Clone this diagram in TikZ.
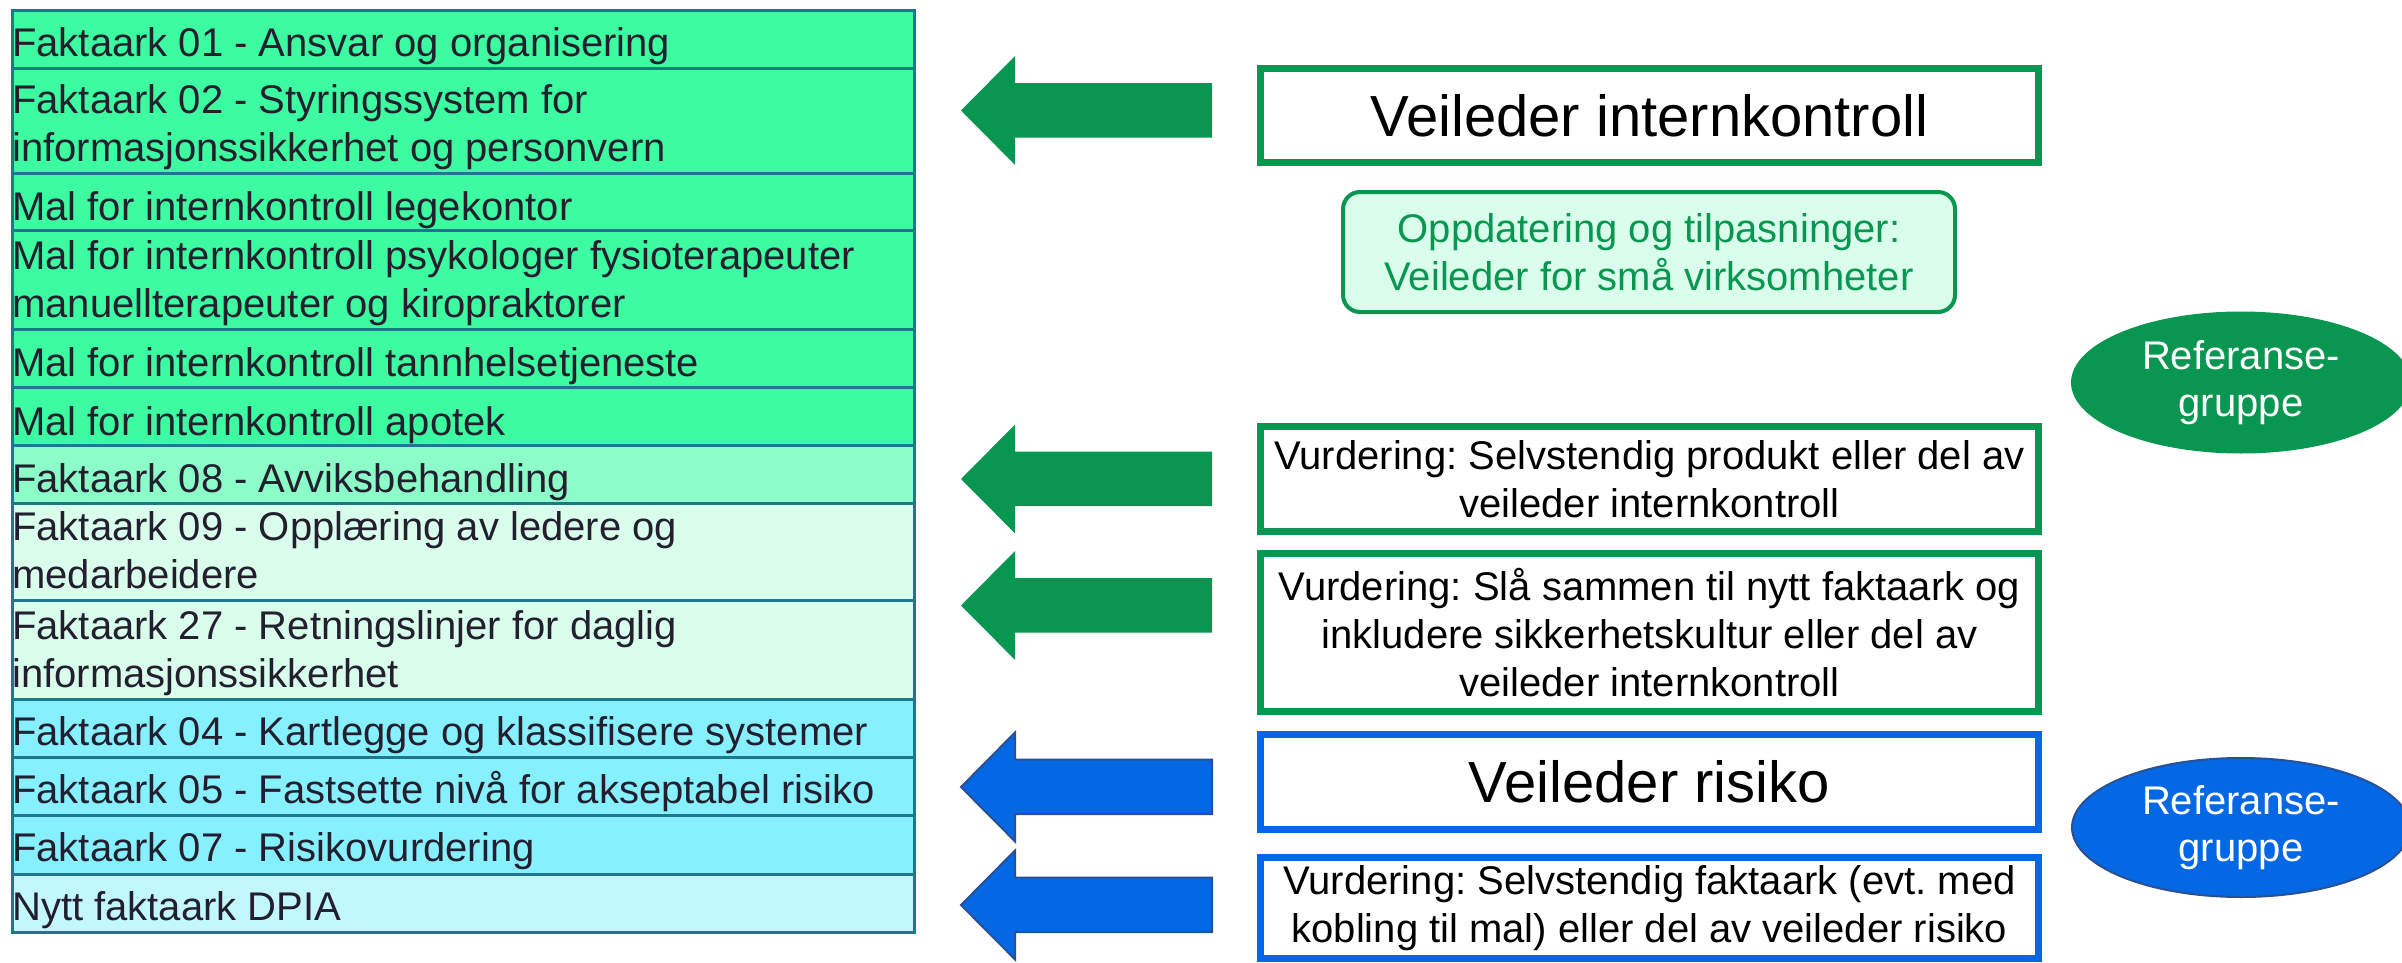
\documentclass[tikz,border=0pt]{standalone}
\usepackage{fontspec}
\setmainfont{Liberation Sans}
\usetikzlibrary{shapes.geometric}
\definecolor{gr}{RGB}{8,150,80}
\definecolor{bl}{RGB}{4,104,228}
\definecolor{blo}{RGB}{40,80,150}
\definecolor{lgf}{RGB}{217,254,236}
\definecolor{rowA}{RGB}{60,251,160}
\definecolor{rowB}{RGB}{140,253,200}
\definecolor{rowC}{RGB}{217,254,235}
\definecolor{rowD}{RGB}{135,240,254}
\definecolor{rowE}{RGB}{195,247,254}
\definecolor{tb}{RGB}{30,120,140}
\definecolor{tx}{RGB}{35,31,46}
\newcommand\blockarrow[3]{%
  \coordinate (#1) at (961,#2);
  \filldraw[#3] (#1) -- ++(54,-54.5) -- ++(0,27.2) -- ++(197,0) -- ++(0,54.4) -- ++(-197,0) -- ++(0,27.3) -- cycle;}
\tikzset{
  rowcell/.style={draw=tb, line width=3, minimum width=902, minimum height=#1, inner sep=0, anchor=north west},
  ttext/.style={font=\fontsize{40}{48}\selectfont, text=tx, inner sep=0, align=left, anchor=base west},
  gbox/.style={draw=gr, line width=7, fill=white, minimum width=778, minimum height=#1, inner sep=0, align=center, font=\fontsize{40}{48}\selectfont},
  bbox/.style={gbox=#1, draw=bl},
  garrow/.style={fill=gr, draw=none},
  barrow/.style={fill=bl, draw=blo, line width=2},
  refell/.style={ellipse, minimum width=340, minimum height=142, inner sep=0, text=white, align=center, font=\fontsize{40}{47}\selectfont}
}
\frenchspacing
\begin{document}
\begin{tikzpicture}[x=1pt,y=-1pt]
\useasboundingbox (0,0) rectangle (2402,963);
% table rows
\node[rowcell=58, fill=rowA] (r1) at (11,9) {};
\node[rowcell=105, fill=rowA] (r2) at (11,67) {};
\node[rowcell=57, fill=rowA] (r3) at (11,172) {};
\node[rowcell=99, fill=rowA] (r4) at (11,229) {};
\node[rowcell=58, fill=rowA] (r5) at (11,328) {};
\node[rowcell=58, fill=rowA] (r6) at (11,386) {};
\node[rowcell=58, fill=rowB] (r7) at (11,444) {};
\node[rowcell=97, fill=rowC] (r8) at (11,502) {};
\node[rowcell=99, fill=rowC] (r9) at (11,599) {};
\node[rowcell=58, fill=rowD] (r10) at (11,698) {};
\node[rowcell=58, fill=rowD] (r11) at (11,756) {};
\node[rowcell=59, fill=rowD] (r12) at (11,814) {};
\node[rowcell=58, fill=rowE] (r13) at (11,873) {};
% table texts (base anchor = baseline of last line)
\node[ttext] (t1) at (12,57) {Faktaark 01 - Ansvar og organisering};
\node[ttext] (t2) at (12,162) {Faktaark 02 - Styringssystem for\\informasjonssikkerhet og personvern};
\node[ttext] (t3) at (12,220) {Mal for internkontroll legekontor};
\node[ttext] (t4) at (12,317) {Mal for internkontroll psykologer fysioterapeuter\\manuellterapeuter og kiropraktorer};
\node[ttext] (t5) at (12,376) {Mal for internkontroll tannhelsetjeneste};
\node[ttext] (t6) at (12,435) {Mal for internkontroll apotek};
\node[ttext] (t7) at (12,492) {Faktaark 08 - Avviksbehandling};
\node[ttext] (t8) at (12,588) {Faktaark 09 - Opplæring av ledere og\\medarbeidere};
\node[ttext] (t9) at (12,687) {Faktaark 27 - Retningslinjer for daglig\\informasjonssikkerhet};
\node[ttext] (t10) at (12,745) {Faktaark 04 - Kartlegge og klassifisere systemer};
\node[ttext] (t11) at (12,803) {Faktaark 05 - Fastsette nivå for akseptabel risiko};
\node[ttext] (t12) at (12,861) {Faktaark 07 - Risikovurdering};
\node[ttext] (t13) at (12,920) {Nytt faktaark DPIA};
% right boxes
\node[gbox=94] (b1) at (1649.5,115.5) {\fontsize{58}{66}\selectfont Veileder internkontroll};
\node[draw=gr, line width=4, fill=lgf, rounded corners=17, minimum width=612, minimum height=120, inner sep=0, text=gr, align=center, font=\fontsize{40}{48}\selectfont] (up) at (1649,252) {Oppdatering og tilpasninger:\\Veileder for små virksomheter};
\node[gbox=105] (b2) at (1649.5,479) {Vurdering: Selvstendig produkt eller del av\\veileder internkontroll};
\node[gbox=158] (b3) at (1649.5,632.5) {Vurdering: Slå sammen til nytt faktaark og\\inkludere sikkerhetskultur eller del av\\veileder internkontroll};
\node[bbox=95] (b4) at (1649.5,782) {\fontsize{58}{66}\selectfont Veileder risiko};
\node[bbox=101] (b5) at (1649.5,908) {Vurdering: Selvstendig faktaark (evt. med\\kobling til mal) eller del av veileder risiko};
% arrows
\blockarrow{a1}{110.5}{garrow}
\blockarrow{a2}{479}{garrow}
\blockarrow{a3}{605.5}{garrow}
\blockarrow{a4}{787}{barrow}
\blockarrow{a5}{905}{barrow}
% reference groups
\node[refell, fill=gr] (e1) at (2241,382.5) {Referanse-\\gruppe};
\node[refell, fill=bl, draw=blo, line width=2, minimum width=338, minimum height=139] (e2) at (2241,827.5) {Referanse-\\gruppe};
\end{tikzpicture}
\end{document}
